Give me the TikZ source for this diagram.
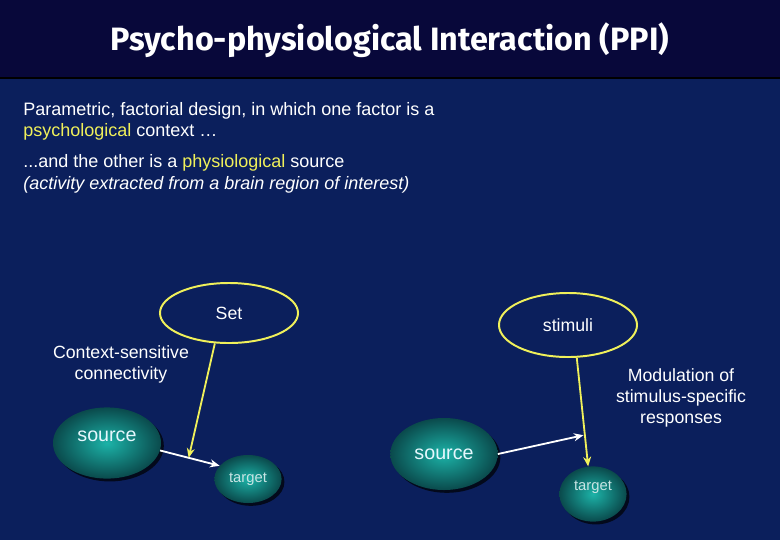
\documentclass[tikz,border=0pt]{standalone}
\usepackage{fontspec}
\setmainfont{Liberation Sans}
\newfontfamily\titlefont{Fira Sans}
\usetikzlibrary{arrows.meta,shapes.geometric,shadows}

\definecolor{slidebg}{HTML}{0B1F5C}
\definecolor{titlebg}{HTML}{08083A}
\definecolor{hiyellow}{HTML}{F0F05A}
\definecolor{tealin}{HTML}{1CB3A8}
\definecolor{tealout}{HTML}{0A4A4C}
\definecolor{tgttext}{HTML}{C8E4E4}

\begin{document}
\begin{tikzpicture}[x=0.025cm, y=-0.025cm,
    region/.style={ellipse, draw=none, inner sep=0pt, shading=radial, inner color=tealin, outer color=tealout, text=white!90!cyan, font=\fontsize{14pt}{16pt}\selectfont, drop shadow={shadow xshift=2pt, shadow yshift=-2pt, opacity=.7, fill=black}},
    factor/.style={ellipse, draw=hiyellow, line width=1.4pt, inner sep=0pt, minimum width=3.45cm, text=white, font=\fontsize{12.6pt}{14pt}\selectfont},
    warr/.style={-{Stealth[length=2.4mm, width=2mm]}, line width=1.3pt, white},
    yarr/.style={-{Stealth[length=2.4mm, width=2mm]}, line width=1.3pt, hiyellow},
    txt/.style={text=white, inner sep=0pt, font=\fontsize{12.8pt}{15pt}\selectfont},
]
\fill[slidebg] (0,0) rectangle (780,540);
\useasboundingbox (0,0) rectangle (780,540);
\fill[titlebg] (0,0) rectangle (780,77);
\draw[black, line width=1.5pt] (0,78) -- (780,78);
\node[text=white, font=\titlefont\bfseries\fontsize{23pt}{26pt}\selectfont] (title) at (390,40) {Psycho-physiological Interaction (PPI)};

% text lines
\node[txt, anchor=base west] (p1) at (23,115) {Parametric, factorial design, in which one factor is a};
\node[txt, anchor=base west] (p2) at (23,136) {\textcolor{hiyellow}{psychological} context \dots};
\node[txt, anchor=base west] (p3) at (23,167) {...and the other is a \textcolor{hiyellow}{physiological} source};
\node[txt, anchor=base west] (p4) at (23,189) {\itshape (activity extracted from a brain region of interest)};

% left: context-sensitive connectivity
\node[factor, minimum height=1.5cm] (set) at (229,313) {Set};
\node[region, minimum width=2.7cm, minimum height=1.78cm, text depth=0.35cm] (src1) at (107,443) {source};
\node[region, minimum width=1.68cm, minimum height=1.2cm, text=tgttext, font=\fontsize{10.5pt}{12pt}\selectfont] (tgt1) at (248,479) {target};
\node[txt, align=center, font=\fontsize{12.6pt}{15pt}\selectfont] (ctx) at (121,364) {Context-sensitive\\connectivity};

\draw[warr] (src1.-8) -- coordinate[pos=.48] (mid1) (tgt1.155);
\draw[yarr] (set.-115) -- (mid1);

% right: modulation of stimulus-specific responses
\node[factor, minimum height=1.6cm] (stim) at (568,325) {stimuli};
\node[region, minimum width=2.68cm, minimum height=1.8cm] (src2) at (444,454) {source};
\node[region, minimum width=1.68cm, minimum height=1.38cm, text depth=0.4cm, text=tgttext, font=\fontsize{10.5pt}{12pt}\selectfont] (tgt2) at (593,494) {target};
\node[txt, align=center, font=\fontsize{12.6pt}{15pt}\selectfont] (mod) at (681,398) {Modulation of\\stimulus-specific\\responses};

\draw[yarr] (stim.-75) -- coordinate[pos=.71] (mid2) (tgt2.100);
\draw[warr, shorten >=1pt] (src2.east) -- (mid2);
\end{tikzpicture}
\end{document}
